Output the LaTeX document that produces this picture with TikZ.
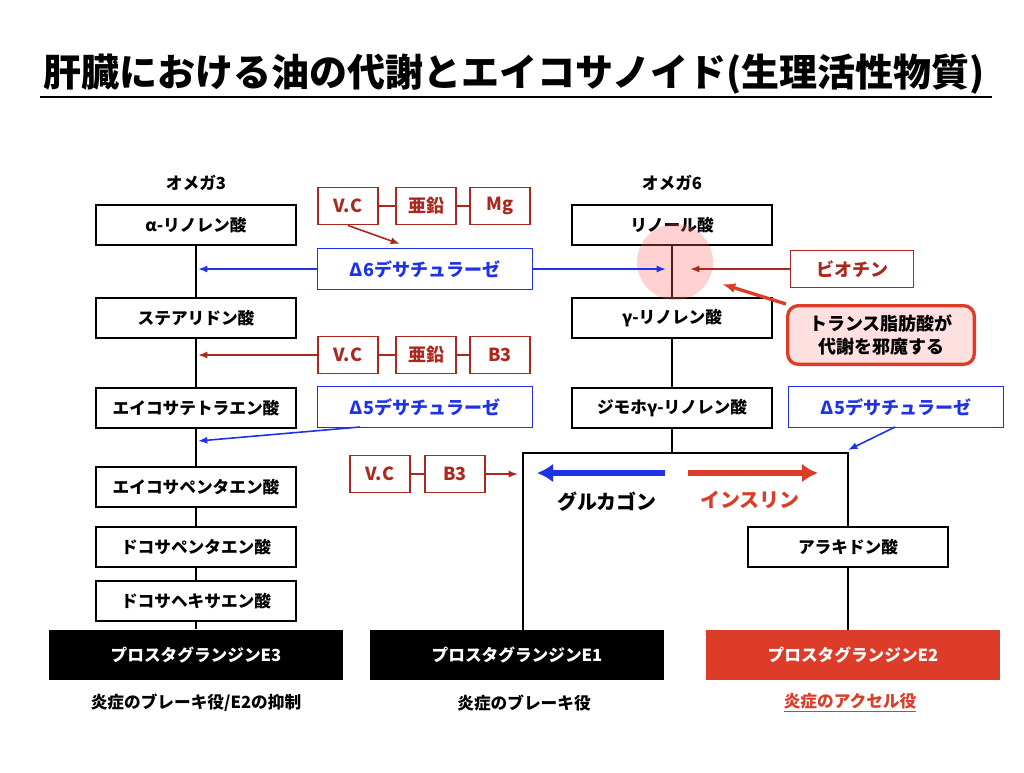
\documentclass[tikz,border=0pt]{standalone}
\usepackage{fontspec}
\setmainfont{Noto Sans CJK JP}[BoldFont={Noto Sans CJK JP Black}]
\usetikzlibrary{arrows.meta}
\definecolor{dred}{RGB}{170,40,30}
\definecolor{dblue}{RGB}{30,50,230}
\definecolor{bred}{RGB}{220,60,40}
\tikzset{
  acid/.style={draw, line width=1.6pt, minimum width=150pt, minimum height=30pt, font=\bfseries\fontsize{12.5}{14}\selectfont},
  enz/.style={draw=dblue, line width=1.2pt, text=dblue, minimum width=161pt, minimum height=31pt, font=\bfseries\fontsize{13.5}{15}\selectfont},
  cof/.style={draw=dred, line width=1.2pt, text=dred, minimum width=45pt, minimum height=28pt, font=\bfseries\fontsize{13.5}{15}\selectfont},
  pg/.style={minimum width=220pt, minimum height=38pt, text=white, font=\bfseries\fontsize{12.5}{14}\selectfont},
  lbl/.style={font=\bfseries\fontsize{12.5}{14}\selectfont},
  rarr/.style={-{Latex[length=7pt]}, dred, line width=1.2pt},
  barr/.style={-{Latex[length=7pt]}, dblue, line width=1.2pt}
}
\begin{document}
\begin{tikzpicture}[x=0.75pt,y=-0.75pt]
\useasboundingbox (0,0) rectangle (1024,772);
% title
\node (title) at (514,74) {\bfseries\fontsize{28.5}{32}\selectfont 肝臓における油の代謝とエイコサノイド(生理活性物質)};
\draw[line width=1.5pt] (40,97) -- (992,97);
% omega 3
\node[lbl] (o3) at (196,183) {オメガ3};
\node[acid] (ala) at (196,225) {α-リノレン酸};
\node[acid] (sda) at (196,318) {ステアリドン酸};
\node[acid] (eta) at (196,408) {エイコサテトラエン酸};
\node[acid] (epa) at (196,487) {エイコサペンタエン酸};
\node[acid] (dpa) at (196,547) {ドコサペンタエン酸};
\node[acid] (dha) at (196,601) {ドコサヘキサエン酸};
\node[pg, fill=black] (pge3) at (196,655) {プロスタグランジンE3};
\node[lbl] (t3) at (196,703) {炎症のブレーキ役/E2の抑制};
\draw[line width=1.2pt] (ala) -- (sda) -- (eta) -- (epa) -- (dpa) -- (dha) -- (pge3);
% omega 6
\node[lbl] (o6) at (672,183) {オメガ6};
\node[acid] (la) at (672,225) {リノール酸};
\node[acid] (gla) at (672,318) {γ-リノレン酸};
\node[acid] (dgla) at (672,408) {ジモホγ-リノレン酸};
\node[acid] (aa) at (848,547) {アラキドン酸};
\node[pg, fill=black] (pge1) at (517,655) {プロスタグランジンE1};
\node[pg, fill=bred] (pge2) at (853,655) {プロスタグランジンE2};
\node[lbl] (t1) at (524,703) {炎症のブレーキ役};
\node[lbl, text=bred] (t2) at (850,703) {\underline{炎症のアクセル役}};
\path coordinate (jl) at (523,453) coordinate (jr) at (848,453) coordinate (jm) at (672,453);
\draw[line width=1.2pt] (la) -- (gla) -- (dgla) -- (jm);
\draw[line width=1.2pt] (523,630) -- (jl) -- (jr) -- (aa) -- (848,630);
% circle
\fill[red!60, opacity=0.3] (675,262) circle (38);
% delta 6
\node[enz] (d6) at (425,269) {Δ6デサチュラーゼ};
\draw[barr] (d6.west) -- (198,269);
\draw[barr] (d6.east) -- (666,269);
\node[cof] (vc1) at (348,206) {V.C};
\node[cof] (zn1) at (426,206) {亜鉛};
\node[cof] (mg1) at (500,206) {Mg};
\draw[dred, line width=1.2pt] (vc1) -- (zn1) -- (mg1);
\draw[rarr] (vc1.south) -- (400,244);
\node[cof, minimum width=92pt] (bio) at (852,269) {ビオチン};
\draw[rarr] (bio.west) -- (690,269);
\node[draw=bred, fill=red!12, line width=2.5pt, rounded corners=8pt, align=center, minimum width=140pt, minimum height=44pt, font=\bfseries\fontsize{13.5}{17}\selectfont] (trans) at (881,335) {トランス脂肪酸が\\代謝を邪魔する};
\draw[-{Latex[length=10pt]}, bred, line width=2.5pt] (trans.north west) -- (722,284);
% second chain
\node[cof] (vc2) at (348,355) {V.C};
\node[cof] (zn2) at (426,355) {亜鉛};
\node[cof] (b31) at (500,355) {B3};
\draw[dred, line width=1.2pt] (vc2) -- (zn2) -- (b31);
\draw[rarr] (vc2.west) -- (198,355);
% delta 5
\node[enz] (d5a) at (425,407) {Δ5デサチュラーゼ};
\draw[barr] (360,427) -- (198,441);
\node[enz] (d5b) at (896,407) {Δ5デサチュラーゼ};
\draw[barr] (895,427) -- (848,450);
\node[cof] (vc3) at (380,474) {V.C};
\node[cof] (b32) at (455,474) {B3};
\draw[dred, line width=1.2pt] (vc3) -- (b32);
\draw[rarr] (b32.east) -- (518,474);
% hormones
\draw[-{Latex[length=12pt,width=14pt]}, dblue, line width=4pt] (665,473) -- (537,473);
\draw[-{Latex[length=12pt,width=14pt]}, bred, line width=4pt] (688,473) -- (818,473);
\node[font=\bfseries\fontsize{15}{17}\selectfont] (glu) at (607,502) {グルカゴン};
\node[font=\bfseries\fontsize{15}{17}\selectfont, text=bred] (ins) at (750,500) {インスリン};
\end{tikzpicture}
\end{document}
